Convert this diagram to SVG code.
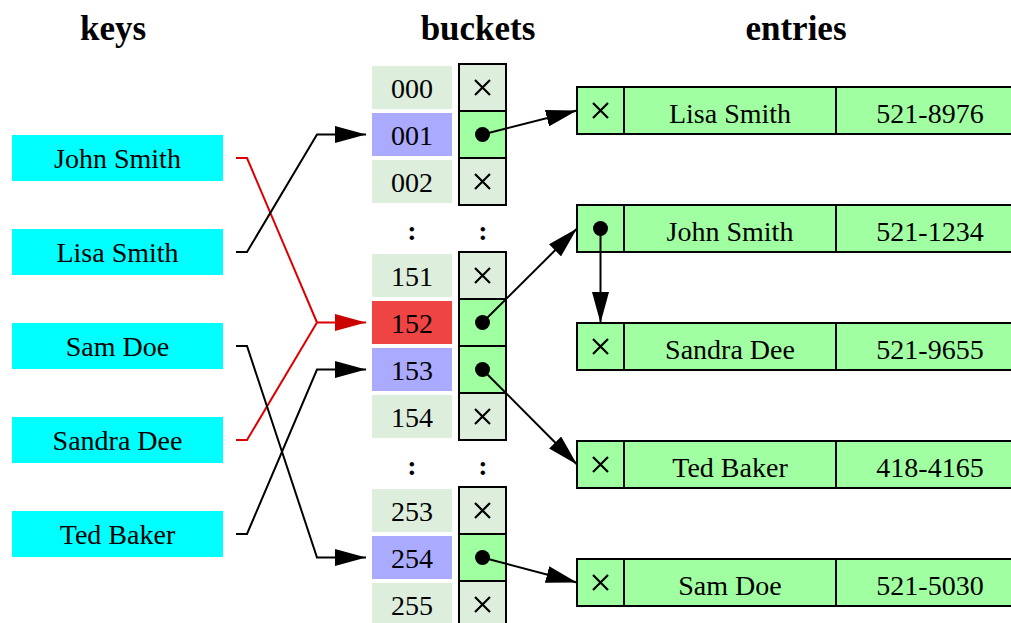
<svg xmlns="http://www.w3.org/2000/svg" width="1011" height="623" viewBox="0 0 1011 623">
<defs>
<style>
text{font-family:"Liberation Serif","Times New Roman",serif;fill:#000}
.h{font-size:35px;font-weight:bold;text-anchor:middle}
.t{font-size:28px;text-anchor:middle}
.c{font-size:28px;font-weight:bold;text-anchor:middle}
.key{fill:#00ffff}
.lbl{fill:#ddeedd}
.lblb{fill:#aaaaff}
.lblr{fill:#ee4444}
.pe{fill:#ddeedd;stroke:#000;stroke-width:2}
.pf{fill:#a0ffa0;stroke:#000;stroke-width:2}
.ent{fill:#a0ffa0;stroke:#000;stroke-width:2}
.x{stroke:#000;stroke-width:2.2;fill:none}
.con{fill:none;stroke:#000;stroke-width:2}
.red{fill:none;stroke:#dd0000;stroke-width:2}
</style>
<marker id="ah" viewBox="0 0 31 17" refX="31" refY="8.5" markerWidth="31" markerHeight="17" markerUnits="userSpaceOnUse" orient="auto"><path d="M0,0L31,8.5L0,17z" fill="#000"/></marker>
<marker id="ahr" viewBox="0 0 31 17" refX="31" refY="8.5" markerWidth="31" markerHeight="17" markerUnits="userSpaceOnUse" orient="auto"><path d="M0,0L31,8.5L0,17z" fill="#cc0000"/></marker>
<path id="xm" d="M-7.5,-7.5L7.5,7.5M7.5,-7.5L-7.5,7.5" class="x"/>
</defs>
<rect width="1011" height="623" fill="#fff"/>
<g id="headers">
<text class="h" x="113" y="40">keys</text>
<text class="h" x="478" y="40">buckets</text>
<text class="h" x="796" y="40">entries</text>
</g>
<g id="keys">
<g id="key-john"><rect class="key" x="12" y="135" width="211" height="46"/><text class="t" x="117.5" y="168">John Smith</text></g>
<g id="key-lisa"><rect class="key" x="12" y="229" width="211" height="46"/><text class="t" x="117.5" y="262">Lisa Smith</text></g>
<g id="key-sam"><rect class="key" x="12" y="323" width="211" height="46"/><text class="t" x="117.5" y="356">Sam Doe</text></g>
<g id="key-sandra"><rect class="key" x="12" y="417" width="211" height="46"/><text class="t" x="117.5" y="450">Sandra Dee</text></g>
<g id="key-ted"><rect class="key" x="12" y="511" width="211" height="46"/><text class="t" x="117.5" y="544">Ted Baker</text></g>
</g>
<g id="buckets">
<g id="b000"><rect class="lbl" x="372" y="66" width="80" height="43"/><text class="t" x="412" y="97.5">000</text><rect class="pe" x="459" y="64" width="47" height="47"/><use href="#xm" x="482.5" y="87.5"/></g>
<g id="b001"><rect class="lblb" x="372" y="113" width="80" height="43"/><text class="t" x="412" y="144.5">001</text><rect class="pf" x="459" y="111" width="47" height="47"/><circle cx="482.5" cy="134.5" r="7.5"/></g>
<g id="b002"><rect class="lbl" x="372" y="160" width="80" height="43"/><text class="t" x="412" y="191.5">002</text><rect class="pe" x="459" y="158" width="47" height="47"/><use href="#xm" x="482.5" y="181.5"/></g>
<g id="gap1"><text class="c" x="412" y="240">:</text><text class="c" x="483" y="240">:</text></g>
<g id="b151"><rect class="lbl" x="372" y="254" width="80" height="43"/><text class="t" x="412" y="285.5">151</text><rect class="pe" x="459" y="252" width="47" height="47"/><use href="#xm" x="482.5" y="275.5"/></g>
<g id="b152"><rect class="lblr" x="372" y="301" width="80" height="43"/><text class="t" x="412" y="332.5">152</text><rect class="pf" x="459" y="299" width="47" height="47"/><circle cx="482.5" cy="322.5" r="7.5"/></g>
<g id="b153"><rect class="lblb" x="372" y="348" width="80" height="43"/><text class="t" x="412" y="379.5">153</text><rect class="pf" x="459" y="346" width="47" height="47"/><circle cx="482.5" cy="369.5" r="7.5"/></g>
<g id="b154"><rect class="lbl" x="372" y="395" width="80" height="43"/><text class="t" x="412" y="426.5">154</text><rect class="pe" x="459" y="393" width="47" height="47"/><use href="#xm" x="482.5" y="416.5"/></g>
<g id="gap2"><text class="c" x="412" y="475">:</text><text class="c" x="483" y="475">:</text></g>
<g id="b253"><rect class="lbl" x="372" y="489" width="80" height="43"/><text class="t" x="412" y="520.5">253</text><rect class="pe" x="459" y="487" width="47" height="47"/><use href="#xm" x="482.5" y="510.5"/></g>
<g id="b254"><rect class="lblb" x="372" y="536" width="80" height="43"/><text class="t" x="412" y="567.5">254</text><rect class="pf" x="459" y="534" width="47" height="47"/><circle cx="482.5" cy="557.5" r="7.5"/></g>
<g id="b255"><rect class="lbl" x="372" y="583" width="80" height="43"/><text class="t" x="412" y="614.5">255</text><rect class="pe" x="459" y="581" width="47" height="47"/><use href="#xm" x="482.5" y="604.5"/></g>
</g>
<g id="entries">
<g id="e-lisa"><rect class="ent" x="577" y="87" width="47" height="47"/><rect class="ent" x="624" y="87" width="212" height="47"/><rect class="ent" x="836" y="87" width="188" height="47"/><use href="#xm" x="600.5" y="110.5"/><text class="t" x="730" y="122.5">Lisa Smith</text><text class="t" x="930" y="122.5">521-8976</text></g>
<g id="e-john"><rect class="ent" x="577" y="205" width="47" height="47"/><rect class="ent" x="624" y="205" width="212" height="47"/><rect class="ent" x="836" y="205" width="188" height="47"/><circle cx="600.5" cy="228.5" r="7.5"/><text class="t" x="730" y="240.5">John Smith</text><text class="t" x="930" y="240.5">521-1234</text></g>
<g id="e-sandra"><rect class="ent" x="577" y="323" width="47" height="47"/><rect class="ent" x="624" y="323" width="212" height="47"/><rect class="ent" x="836" y="323" width="188" height="47"/><use href="#xm" x="600.5" y="346.5"/><text class="t" x="730" y="358.5">Sandra Dee</text><text class="t" x="930" y="358.5">521-9655</text></g>
<g id="e-ted"><rect class="ent" x="577" y="441" width="47" height="47"/><rect class="ent" x="624" y="441" width="212" height="47"/><rect class="ent" x="836" y="441" width="188" height="47"/><use href="#xm" x="600.5" y="464.5"/><text class="t" x="730" y="476.5">Ted Baker</text><text class="t" x="930" y="476.5">418-4165</text></g>
<g id="e-sam"><rect class="ent" x="577" y="559" width="47" height="47"/><rect class="ent" x="624" y="559" width="212" height="47"/><rect class="ent" x="836" y="559" width="188" height="47"/><use href="#xm" x="600.5" y="582.5"/><text class="t" x="730" y="594.5">Sam Doe</text><text class="t" x="930" y="594.5">521-5030</text></g>
</g>
<g id="connectors">
<path class="red" d="M236,158H247L317,322.5"/>
<path class="red" d="M236,440H247L317,322.5H366" marker-end="url(#ahr)"/>
<path class="con" d="M236,252H247L317,134.5H366" marker-end="url(#ah)"/>
<path class="con" d="M236,346H247L317,557.5H366" marker-end="url(#ah)"/>
<path class="con" d="M236,534H247L317,369.5H366" marker-end="url(#ah)"/>
<path class="con" d="M482.5,134.5L577,110.5" marker-end="url(#ah)"/>
<path class="con" d="M482.5,322.5L577,228.5" marker-end="url(#ah)"/>
<path class="con" d="M482.5,369.5L577,464.5" marker-end="url(#ah)"/>
<path class="con" d="M482.5,557.5L577,582.5" marker-end="url(#ah)"/>
<path class="con" d="M600.5,228.5V323" marker-end="url(#ah)"/>
</g>
</svg>
